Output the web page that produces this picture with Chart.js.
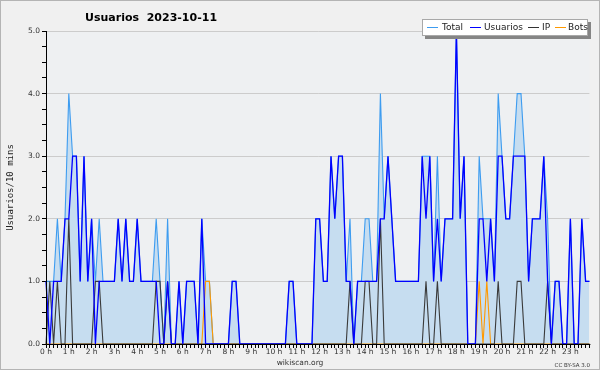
<!DOCTYPE html>
<html>
<head>
<meta charset="utf-8">
<script src="https://cdn.jsdelivr.net/npm/chart.js@4"></script>
<style>
  html, body { margin: 0; padding: 0; background: #f0f0f0; }
  canvas { display: block; }
</style>
</head>
<body>
<canvas id="chart" width="600" height="370"></canvas>
<script>
// one point every 10 minutes, 0:00 -> 23:50
const hourLabels = ['0 h', '1 h', '2 h', '3 h', '4 h', '5 h', '6 h', '7 h', '8 h', '9 h', '10 h', '11 h',
    '12 h', '13 h', '14 h', '15 h', '16 h', '17 h', '18 h', '19 h', '20 h', '21 h', '22 h', '23 h'];
const minuteSlots = ['00', '10', '20', '30', '40', '50'];

const total = [
    1, 1, 1, 2, 1, 2, 4, 3, 3, 1,  3, 1, 2, 1, 2, 1, 1, 1, 1, 2,
    1, 2, 1, 1, 2, 1, 1, 1, 1, 2,  1, 0, 2, 0, 0, 1, 0, 1, 1, 1,
    0, 2, 1, 1, 0, 0, 0, 0, 0, 1,  1, 0, 0, 0, 0, 0, 0, 0, 0, 0,
    0, 0, 0, 0, 1, 1, 0, 0, 0, 0,  0, 2, 2, 1, 1, 3, 2, 3, 3, 1,
    2, 0, 1, 1, 2, 2, 1, 1, 4, 2,  3, 2, 1, 1, 1, 1, 1, 1, 1, 3,
    3, 3, 1, 3, 1, 2, 2, 2, 5, 2,  3, 0, 0, 0, 3, 2, 2, 2, 1, 4,
    3, 2, 2, 3, 4, 4, 3, 1, 2, 2,  2, 3, 2, 0, 1, 1, 0, 0, 2, 0,
    0, 2, 1, 1
];
const usuarios = [
    1, 0, 1, 1, 1, 2, 2, 3, 3, 1,  3, 1, 2, 0, 1, 1, 1, 1, 1, 2,
    1, 2, 1, 1, 2, 1, 1, 1, 1, 1,  0, 0, 1, 0, 0, 1, 0, 1, 1, 1,
    0, 2, 0, 0, 0, 0, 0, 0, 0, 1,  1, 0, 0, 0, 0, 0, 0, 0, 0, 0,
    0, 0, 0, 0, 1, 1, 0, 0, 0, 0,  0, 2, 2, 1, 1, 3, 2, 3, 3, 1,
    1, 0, 1, 1, 1, 1, 1, 1, 2, 2,  3, 2, 1, 1, 1, 1, 1, 1, 1, 3,
    2, 3, 1, 2, 1, 2, 2, 2, 5, 2,  3, 0, 0, 0, 2, 2, 1, 2, 1, 3,
    3, 2, 2, 3, 3, 3, 3, 1, 2, 2,  2, 3, 1, 0, 1, 1, 0, 0, 2, 0,
    0, 2, 1, 1
];
const ip = [
    0, 1, 0, 1, 0, 0, 2, 0, 0, 0,  0, 0, 0, 1, 1, 0, 0, 0, 0, 0,
    0, 0, 0, 0, 0, 0, 0, 0, 0, 1,  1, 0, 1, 0, 0, 0, 0, 0, 0, 0,
    0, 0, 0, 0, 0, 0, 0, 0, 0, 0,  0, 0, 0, 0, 0, 0, 0, 0, 0, 0,
    0, 0, 0, 0, 0, 0, 0, 0, 0, 0,  0, 0, 0, 0, 0, 0, 0, 0, 0, 0,
    1, 0, 0, 0, 1, 1, 0, 0, 2, 0,  0, 0, 0, 0, 0, 0, 0, 0, 0, 0,
    1, 0, 0, 1, 0, 0, 0, 0, 0, 0,  0, 0, 0, 0, 0, 0, 0, 0, 0, 1,
    0, 0, 0, 0, 1, 1, 0, 0, 0, 0,  0, 0, 1, 0, 0, 0, 0, 0, 0, 0,
    0, 0, 0, 0
];
const bots = [
    0, 0, 0, 0, 0, 0, 0, 0, 0, 0,  0, 0, 0, 0, 0, 0, 0, 0, 0, 0,
    0, 0, 0, 0, 0, 0, 0, 0, 0, 0,  0, 0, 0, 0, 0, 0, 0, 0, 0, 0,
    0, 0, 1, 1, 0, 0, 0, 0, 0, 0,  0, 0, 0, 0, 0, 0, 0, 0, 0, 0,
    0, 0, 0, 0, 0, 0, 0, 0, 0, 0,  0, 0, 0, 0, 0, 0, 0, 0, 0, 0,
    0, 0, 0, 0, 0, 0, 0, 0, 0, 0,  0, 0, 0, 0, 0, 0, 0, 0, 0, 0,
    0, 0, 0, 0, 0, 0, 0, 0, 0, 0,  0, 0, 0, 0, 1, 0, 1, 0, 0, 0,
    0, 0, 0, 0, 0, 0, 0, 0, 0, 0,  0, 0, 0, 0, 0, 0, 0, 0, 0, 0,
    0, 0, 0, 0
];

const titleText = 'Usuarios  2023-10-11';
const yTitle = 'Usuarios/10 mins';
const footerText = 'wikiscan.org';
const licenceText = 'CC BY-SA 3.0';
const legendItems = [
    { label: 'Total', color: '#3d9cf0', x: 427, textX: 442 },
    { label: 'Usuarios', color: '#0000ff', x: 470, textX: 484 },
    { label: 'IP', color: '#333333', x: 528, textX: 542 },
    { label: 'Bots', color: '#ff9900', x: 555, textX: 568 }
];

const labels = [];
hourLabels.forEach((h, hi) => minuteSlots.forEach(m => labels.push(hi + ':' + m)));

const FONT = "'DejaVu Sans', sans-serif";

function alignPx(p) {
    return Math.round(p - 0.5) + 0.5;
}

// fond, axes par-dessus les courbes, titre, légende et pied de page
const decorPlugin = {
    id: 'decor',
    beforeDraw(chart) {
        const { ctx, chartArea: a } = chart;
        ctx.save();
        ctx.fillStyle = '#f0f0f0';
        ctx.fillRect(0, 0, chart.width, chart.height);
        ctx.fillStyle = '#eef0f2';
        ctx.fillRect(a.left, a.top, a.right - a.left, a.bottom - a.top);
        ctx.restore();
    },
    afterDatasetsDraw(chart) {
        const { ctx, chartArea: a } = chart;
        const x0 = alignPx(a.left);
        const y0 = alignPx(a.bottom);
        ctx.save();
        ctx.strokeStyle = '#000';
        ctx.lineWidth = 1;
        ctx.beginPath();
        ctx.moveTo(x0, a.top);
        ctx.lineTo(x0, y0);
        ctx.lineTo(a.right + 1, y0);
        ctx.stroke();
        ctx.restore();
    },
    afterDraw(chart) {
        const ctx = chart.ctx;
        ctx.save();
        ctx.strokeStyle = '#b4b4b4';
        ctx.lineWidth = 1;
        ctx.strokeRect(0.5, 0.5, chart.width - 1, chart.height - 1);

        ctx.fillStyle = '#000';
        ctx.font = 'bold 11px ' + FONT;
        ctx.textBaseline = 'middle';
        ctx.textAlign = 'left';
        ctx.fillText(titleText, 85, 18);

        // légende
        ctx.fillStyle = '#858585';
        ctx.fillRect(425, 22, 166, 17);
        ctx.fillStyle = '#ffffff';
        ctx.fillRect(422, 19, 166, 17);
        ctx.strokeStyle = '#a8a8a8';
        ctx.strokeRect(422.5, 19.5, 165, 16);
        ctx.font = '9px ' + FONT;
        legendItems.forEach(item => {
            ctx.fillStyle = item.color;
            ctx.fillRect(item.x, 27, 11, 1);
            ctx.fillStyle = '#222';
            ctx.fillText(item.label, item.textX, 27.5);
        });

        ctx.fillStyle = '#333';
        ctx.font = '7.5px ' + FONT;
        ctx.textAlign = 'center';
        ctx.fillText(footerText, 300, 363);
        ctx.font = '5.5px ' + FONT;
        ctx.textAlign = 'right';
        ctx.fillText(licenceText, 590, 366);
        ctx.restore();
    }
};

const lineStyle = { pointRadius: 0, tension: 0, clip: false, borderJoinStyle: 'miter' };

new Chart(document.getElementById('chart'), {
    type: 'line',
    data: {
        labels: labels,
        datasets: [
            { ...lineStyle, label: 'Usuarios', data: usuarios, borderColor: '#0000ff', borderWidth: 1.3, fill: false, order: 1 },
            { ...lineStyle, label: 'IP', data: ip, borderColor: '#3a3a3a', borderWidth: 1.1, fill: false, order: 2 },
            { ...lineStyle, label: 'Bots', data: bots, borderColor: '#ff9900', borderWidth: 1.1, fill: false, order: 3 },
            { ...lineStyle, label: 'Total', data: total, borderColor: '#3d9cf0', borderWidth: 1.1,
              backgroundColor: '#c6ddf0', fill: 'origin', order: 4 }
        ]
    },
    options: {
        responsive: false,
        animation: false,
        devicePixelRatio: 1,
        layout: { padding: { top: 31, right: 10.6, left: 0, bottom: 0 } },
        plugins: {
            legend: { display: false },
            title: { display: false },
            tooltip: { enabled: false }
        },
        scales: {
            x: {
                type: 'category',
                offset: false,
                border: { display: true, color: '#000', width: 1 },
                grid: { display: true, drawOnChartArea: false, tickLength: 4, color: '#000', tickColor: '#000' },
                ticks: {
                    autoSkip: false, maxRotation: 0, minRotation: 0, padding: 0,
                    color: '#333', font: { family: FONT, size: 7.5 },
                    callback: (v, i) => i % 6 === 0 ? hourLabels[i / 6] : ''
                },
                afterFit: s => { s.height = 26; }
            },
            y: {
                min: 0,
                max: 5,
                border: { display: true, color: '#000', width: 1 },
                grid: {
                    tickLength: 4,
                    tickColor: '#000',
                    color: c => (c.tick && Number.isInteger(c.tick.value) && c.tick.value > 0) ? '#cccccc' : 'rgba(0,0,0,0)'
                },
                ticks: {
                    stepSize: 0.25, autoSkip: false, padding: 2,
                    color: '#333', font: { family: FONT, size: 7.5 },
                    callback: v => Number.isInteger(v) ? v.toFixed(1) : ''
                },
                title: {
                    display: true, text: yTitle, color: '#222',
                    font: { family: "'DejaVu Sans Mono', monospace", size: 9 },
                    padding: { top: 5, bottom: 0 }
                },
                afterFit: s => { s.width = 46; }
            }
        }
    },
    plugins: [decorPlugin]
});
</script>
</body>
</html>
